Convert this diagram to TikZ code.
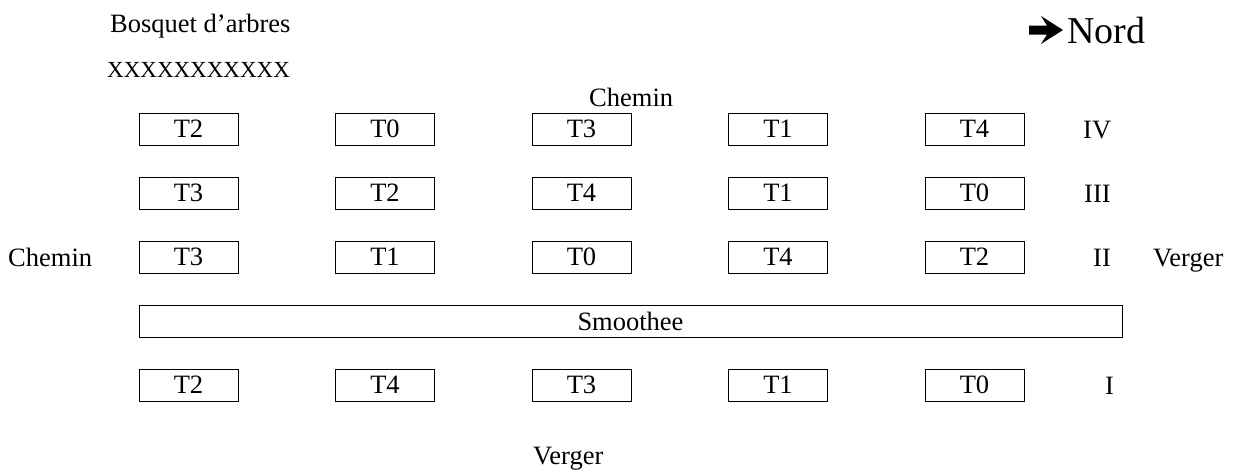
\documentclass[tikz,border=0pt]{standalone}
\usepackage{fontspec}
\setmainfont{Liberation Serif}
\begin{document}
\begin{tikzpicture}[x=1pt,y=-1pt,
  plotbox/.style={draw, line width=1pt, minimum width=99pt, minimum height=32pt, inner sep=0pt, font=\fontsize{26.5}{30}\selectfont},
  lbl/.style={inner sep=0pt, anchor=base west, font=\fontsize{26.5}{30}\selectfont}]
\useasboundingbox (0,0) rectangle (1239,469);
% titles
\node[lbl] (bosquet) at (110,32) {Bosquet d’arbres};
\node[lbl, font=\fontsize{23}{26}\selectfont] (arbres) at (107,77) {XXXXXXXXXXX};
\fill[black] (1029,25.5) -- (1047,25.5) -- (1041,16) -- (1063,30) -- (1041,44) -- (1047,34.5) -- (1029,34.5) -- cycle;
\node[lbl, font=\fontsize{38}{44}\selectfont] (nord) at (1067,43) {Nord};
\node[lbl] (cheminN) at (589,106) {Chemin};
\node[lbl] (cheminW) at (8,266) {Chemin};
\node[lbl] (vergerE) at (1153,266) {Verger};
\node[lbl] (vergerS) at (533,464) {Verger};
% plots
\foreach \lab [count=\c] in {T2,T0,T3,T1,T4}
  \node[plotbox] (r4c\c) at ({188.5+196.5*(\c-1)},129) {\lab};
\foreach \lab [count=\c] in {T3,T2,T4,T1,T0}
  \node[plotbox] (r3c\c) at ({188.5+196.5*(\c-1)},193) {\lab};
\foreach \lab [count=\c] in {T3,T1,T0,T4,T2}
  \node[plotbox] (r2c\c) at ({188.5+196.5*(\c-1)},257) {\lab};
\foreach \lab [count=\c] in {T2,T4,T3,T1,T0}
  \node[plotbox] (r1c\c) at ({188.5+196.5*(\c-1)},385) {\lab};
\node[plotbox, minimum width=983pt] (smoothee) at (630.5,321) {Smoothee};
% block numbers
\node[lbl] (b4) at (1083,138) {IV};
\node[lbl] (b3) at (1084,202) {III};
\node[lbl] (b2) at (1093,266) {II};
\node[lbl] (b1) at (1105,394) {I};
\end{tikzpicture}
\end{document}
